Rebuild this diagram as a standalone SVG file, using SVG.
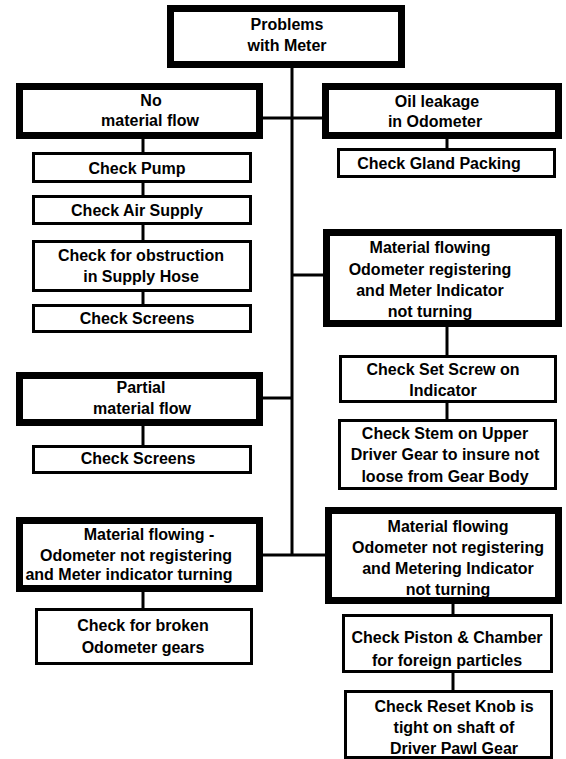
<svg xmlns="http://www.w3.org/2000/svg" width="566" height="759" viewBox="0 0 566 759">
<style>
.thick{fill:#fff;stroke:#000;stroke-width:7}
.thin{fill:#fff;stroke:#000;stroke-width:3}
text{font-family:"Liberation Sans",Arial,sans-serif;font-weight:bold;font-size:16px;fill:#000;text-anchor:middle}
.c{stroke:#000;stroke-width:3;fill:none}
</style>
<rect width="566" height="759" fill="#fff"/>
<g id="connectors">
<line class="c" x1="292" y1="66" x2="292" y2="556"/>
<line class="c" x1="261" y1="118" x2="324" y2="118"/>
<line class="c" x1="261" y1="398" x2="292" y2="398"/>
<line class="c" x1="292" y1="275" x2="325" y2="275"/>
<line class="c" x1="261" y1="555" x2="327" y2="555"/>
<line class="c" x1="143" y1="137" x2="143" y2="154"/>
<line class="c" x1="143" y1="182" x2="143" y2="197"/>
<line class="c" x1="143" y1="224" x2="143" y2="242"/>
<line class="c" x1="143" y1="291" x2="143" y2="306"/>
<line class="c" x1="143" y1="424" x2="143" y2="446"/>
<line class="c" x1="143" y1="590" x2="143" y2="609"/>
<line class="c" x1="447" y1="137" x2="447" y2="149"/>
<line class="c" x1="447" y1="325" x2="447" y2="356"/>
<line class="c" x1="447" y1="402" x2="447" y2="420"/>
<line class="c" x1="453" y1="602" x2="453" y2="615"/>
<line class="c" x1="453" y1="672" x2="453" y2="691"/>
</g>
<g id="n-top">
<rect class="thick" x="170.5" y="8.5" width="231" height="56"/>
<text x="287" y="30">Problems</text>
<text x="287" y="51">with Meter</text>
</g>
<g id="n-nomat">
<rect class="thick" x="19.5" y="86.5" width="240" height="49"/>
<text x="151" y="106">No</text>
<text x="150" y="126">material flow</text>
</g>
<g id="n-oil">
<rect class="thick" x="325.5" y="86.5" width="233" height="49"/>
<text x="437" y="107">Oil leakage</text>
<text x="435" y="127">in Odometer</text>
</g>
<g id="n-pump">
<rect class="thin" x="33.5" y="153.5" width="217" height="28"/>
<text x="137" y="174">Check Pump</text>
</g>
<g id="n-air">
<rect class="thin" x="33.5" y="196.5" width="217" height="27"/>
<text x="137" y="216">Check Air Supply</text>
</g>
<g id="n-obst">
<rect class="thin" x="33.5" y="241.5" width="217" height="49"/>
<text x="141" y="261">Check for obstruction</text>
<text x="141" y="282">in Supply Hose</text>
</g>
<g id="n-screens1">
<rect class="thin" x="33.5" y="305.5" width="217" height="26"/>
<text x="137" y="324">Check Screens</text>
</g>
<g id="n-gland">
<rect class="thin" x="338.5" y="149.5" width="216" height="27"/>
<text x="439" y="169">Check Gland Packing</text>
</g>
<g id="n-mf-reg">
<rect class="thick" x="326.5" y="232.5" width="232" height="91"/>
<text x="430" y="253">Material flowing</text>
<text x="430" y="275">Odometer registering</text>
<text x="430" y="296">and Meter Indicator</text>
<text x="430" y="317">not turning</text>
</g>
<g id="n-setscrew">
<rect class="thin" x="340.5" y="356.5" width="215" height="45"/>
<text x="443" y="375">Check Set Screw on</text>
<text x="443" y="396">Indicator</text>
</g>
<g id="n-stem">
<rect class="thin" x="339.5" y="420.5" width="216" height="68"/>
<text x="445" y="439">Check Stem on Upper</text>
<text x="445" y="460">Driver Gear to insure not</text>
<text x="445" y="482">loose from Gear Body</text>
</g>
<g id="n-partial">
<rect class="thick" x="19.5" y="375.5" width="240" height="47"/>
<text x="141" y="393">Partial</text>
<text x="142" y="414">material flow</text>
</g>
<g id="n-screens2">
<rect class="thin" x="33.5" y="446.5" width="217" height="26"/>
<text x="138" y="464">Check Screens</text>
</g>
<g id="n-mf-left">
<rect class="thick" x="19.5" y="520.5" width="240" height="68"/>
<text x="149" y="540">Material flowing -</text>
<text x="136" y="561">Odometer not registering</text>
<text x="129" y="580">and Meter indicator turning</text>
</g>
<g id="n-broken">
<rect class="thin" x="36.5" y="609.5" width="215" height="54"/>
<text x="143" y="631">Check for broken</text>
<text x="143" y="653">Odometer gears</text>
</g>
<g id="n-mf-noreg">
<rect class="thick" x="328.5" y="510.5" width="230" height="90"/>
<text x="448" y="532">Material flowing</text>
<text x="448" y="553">Odometer not registering</text>
<text x="448" y="574">and Metering Indicator</text>
<text x="448" y="595">not turning</text>
</g>
<g id="n-piston">
<rect class="thin" x="343.5" y="615.5" width="208" height="56"/>
<text x="447" y="643">Check Piston &amp; Chamber</text>
<text x="447" y="666">for foreign particles</text>
</g>
<g id="n-reset">
<rect class="thin" x="345.5" y="691.5" width="206" height="66"/>
<text x="454" y="712">Check Reset Knob is</text>
<text x="454" y="733">tight on shaft of</text>
<text x="454" y="754">Driver Pawl Gear</text>
</g>
</svg>
